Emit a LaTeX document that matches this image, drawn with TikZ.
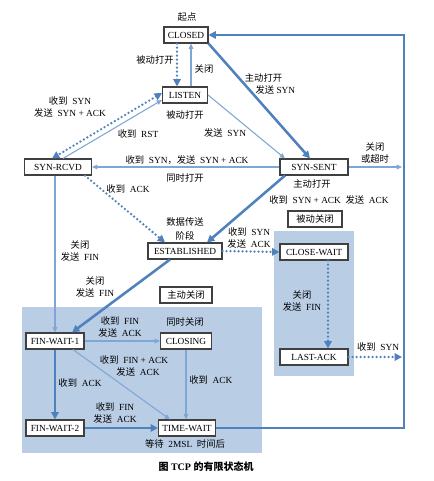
\documentclass[tikz,border=0pt]{standalone}
\usepackage{fontspec}
\setmainfont{Liberation Serif}
\newfontfamily\cjk{Noto Sans CJK SC}
\usetikzlibrary{arrows.meta,calc}
\definecolor{thk}{HTML}{4F81BD}
\definecolor{thn}{HTML}{7FA6D6}
\definecolor{shd}{HTML}{B9CDE5}
\newcommand\zh[1]{{\cjk #1}}
\begin{document}
\begin{tikzpicture}[x=0.75pt,y=-0.75pt,
 st/.style={draw=black!75,line width=0.8pt,fill=white,minimum height=12pt,inner sep=1pt,font=\fontsize{7}{8}\selectfont},
 lbl/.style={font=\fontsize{7}{8.5}\selectfont,align=center,inner sep=0pt},
 bigln/.style={draw=thk,line width=1.9pt,-{Triangle[length=5.5pt,width=5.5pt]}},
 thinln/.style={draw=thn,line width=0.8pt,-{Triangle[length=4pt,width=3.5pt]}},
 dotln/.style={draw=thk,line width=1.9pt,dash pattern=on 0pt off 3pt,line cap=round,-{Triangle[length=5.5pt,width=5.5pt]}},
]
\useasboundingbox (0,0) rectangle (433,481);
\fill[white] (0,0) rectangle (433,481);
\fill[shd] (22,307) rectangle (262,453);
\fill[shd] (274,231) rectangle (354,376);

\node[st,minimum width=33pt] (CLOSED) at (186,35) {CLOSED};
\node[st,minimum width=33.75pt] (LISTEN) at (185,95) {LISTEN};
\node[st,minimum width=50.25pt] (SR) at (58,167) {SYN-RCVD};
\node[st,minimum width=51pt] (SS) at (314,167) {SYN-SENT};
\node[st,minimum width=55.5pt] (EST) at (185,251) {ESTABLISHED};
\node[st,minimum width=51pt] (CW) at (314,252) {CLOSE-WAIT};
\node[st,minimum width=43.5pt] (FW1) at (55,341) {FIN-WAIT-1};
\node[st,minimum width=38.25pt] (CLG) at (186,341) {CLOSING};
\node[st,minimum width=43.5pt] (FW2) at (55,428) {FIN-WAIT-2};
\node[st,minimum width=42.75pt] (TW) at (187,428) {TIME-WAIT};
\node[st,minimum width=51pt] (LA) at (314,357) {LAST-ACK};
\node[st,minimum width=40.5pt] (PB) at (315,219) {\zh{被动关闭}};
\node[st,minimum width=39pt] (ZB) at (186,295) {\zh{主动关闭}};

\coordinate (LAend) at (402,357);
\coordinate (SSend) at (402,167);
\coordinate (RC) at (404,0);

\draw[dotln] ($(CLOSED.south)+(-9,0)$) -- ($(LISTEN.north)+(-8,0)$);
\draw[thinln] ($(LISTEN.north)+(6,0)$) -- ($(CLOSED.south)+(5,0)$);
\draw[bigln] (CLOSED.south east) -- ($(SS.north)+(-4,0)$);
\draw[thinln] (LISTEN.east) -- ($(SS.north)+(-29,0)$);
\draw[dotln,{Triangle[length=5.5pt,width=5.5pt]}-{Triangle[length=5.5pt,width=5.5pt]}] ($(LISTEN.west)+(0,-2)$) -- ($(SR.north)+(-6,0)$);
\draw[thinln] ($(SR.north)+(5,0)$) -- ($(LISTEN.west)+(0,5)$);
\draw[thinln] (SS.west) -- (SR.east);
\draw[dotln] ($(SR.south)+(27,0)$) -- ($(EST.north)+(-20,0)$);
\draw[bigln] ($(SS.south)+(-29,0)$) -- ($(EST.north)+(22,0)$);
\draw[dotln] (EST.east) -- (CW.west);
\draw[dotln] ($(CW.south)+(14,0)$) -- ($(LA.north)+(14,0)$);
\draw[dotln] (LA.east) -- (LAend);
\draw[thinln] (FW1.north |- SR.south) -- (FW1.north);
\draw[bigln] ($(EST.south)+(-15,0)$) -- ($(FW1.north)+(17,0)$);
\draw[thinln] (FW1.east) -- (CLG.west);
\draw[thinln] ($(FW1.south)+(18,0)$) -- ($(TW.north)+(-17,0)$);
\draw[bigln] (FW1.south) -- (FW2.north);
\draw[thinln] (CLG.south) -- (CLG.south |- TW.north);
\draw[bigln] (FW2.east) -- (TW.west);
\draw[bigln] (TW.east) -- (TW.east -| RC) -- (CLOSED.east -| RC) -- (CLOSED.east);
\draw[thinln] (SS.east) -- (SSend);

\node[lbl] (t1) at (187,17) {\zh{起点}};
\node[lbl] (t2) at (155,60) {\zh{被动打开}};
\node[lbl] (t3) at (204,69) {\zh{关闭}};
\node[lbl] (t4) at (185,115) {\zh{被动打开}};
\node[lbl,align=left] (t5) at (270,84) {\zh{主动打开}\\[1pt]\hspace*{8pt}\zh{发送}~SYN};
\node[lbl] (t6) at (70,107) {\zh{收到}~~SYN\\[1pt]\zh{发送}~~SYN + ACK};
\node[lbl] (t7) at (138,134) {\zh{收到}~~RST};
\node[lbl] (t8) at (225,133) {\zh{发送}~~SYN};
\node[lbl] (t9) at (375,153) {\zh{关闭}\\[1pt]\zh{或超时}};
\node[lbl] (t10) at (187,160) {\zh{收到}~~SYN\zh{，发送}~~SYN + ACK};
\node[lbl] (t11) at (185,178) {\zh{同时打开}};
\node[lbl] (t12) at (128,189) {\zh{收到}~~ACK};
\node[lbl] (t13) at (312,184) {\zh{主动打开}};
\node[lbl] (t14) at (329,200) {\zh{收到}~~SYN + ACK~~\zh{发送}~~ACK};
\node[lbl] (t15) at (185,229) {\zh{数据传送}\\[2pt]\zh{阶段}};
\node[lbl] (t16) at (249,238) {\zh{收到}~~SYN\\[0pt]\zh{发送}~~ACK};
\node[lbl] (t17) at (80,251) {\zh{关闭}\\[0pt]\zh{发送}~~FIN};
\node[lbl] (t18) at (95,287) {\zh{关闭}\\[0pt]\zh{发送}~~FIN};
\node[lbl] (t19) at (302,301) {\zh{关闭}\\[0pt]\zh{发送}~~FIN};
\node[lbl] (t20) at (120,327) {\zh{收到}~~FIN\\[0pt]\zh{发送}~~ACK};
\node[lbl] (t21) at (185,322) {\zh{同时关闭}};
\node[lbl] (t22) at (378,347) {\zh{收到}~~SYN};
\node[lbl] (t23) at (134,366) {\zh{收到}~~FIN + ACK\\[0pt]\hspace*{6pt}\zh{发送}~~ACK};
\node[lbl] (t24) at (80,383) {\zh{收到}~~ACK};
\node[lbl,anchor=west] (t25) at (189,380) {\zh{收到}~~ACK};
\node[lbl] (t26) at (115,413) {\zh{收到}~~FIN\\[0pt]\zh{发送}~~ACK};
\node[lbl] (t27) at (185,444) {\zh{等待}~~2MSL~~\zh{时间后}};
\node[lbl,font=\fontsize{7.5}{9}\selectfont\bfseries] (cap) at (206,467) {\zh{图}~TCP~\zh{的有限状态机}};
\end{tikzpicture}
\end{document}
